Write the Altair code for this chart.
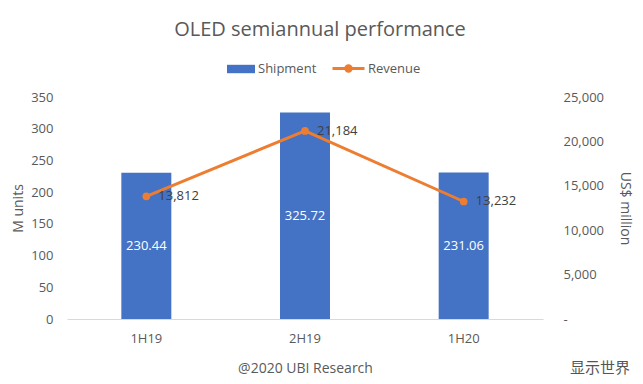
import altair as alt
import pandas as pd

periods = ["1H19", "2H19", "1H20"]
shipment = [230.44, 325.72, 231.06]
revenue = [13812, 21184, 13232]
title_text = "OLED semiannual performance"
x_title = "@2020 UBI Research"
left_title = "M units"
right_title = "US$ million"
corner_text = "显示世界"

FONT = "Open Sans"
GRAY = "#595959"
BLUE = "#4472C4"
ORANGE = "#ED7D31"

df = pd.DataFrame({"period": periods, "ship": shipment, "rev": revenue})
df["mid"] = df["ship"] / 2
df["s1"] = "Shipment"
df["s2"] = "Revenue"

base = alt.Chart(df)

xenc = alt.X(
    "period:N", sort=periods,
    scale=alt.Scale(paddingInner=0.685, paddingOuter=0.3425),
    axis=alt.Axis(title=x_title, labelAngle=0, ticks=False, domainColor="#d9d9d9",
                  labelColor=GRAY, labelFontSize=13, labelPadding=13, titleFontSize=14,
                  titleColor=GRAY, titleFontWeight="normal", titlePadding=16, labelFont=FONT,
                  titleFont=FONT),
)

left_scale = alt.Scale(domain=[0, 350], nice=False)
left_axis = alt.Axis(title=left_title, values=list(range(0, 351, 50)), grid=False, domain=False,
                     ticks=False, labelColor=GRAY, labelFontSize=13, labelPadding=14,
                     labelOverlap=False,
                     titleColor=GRAY, titleFontSize=14, titleFontWeight="normal", titlePadding=5,
                     labelFont=FONT, titleFont=FONT)

bars = base.mark_bar().encode(
    x=xenc, y=alt.Y("ship:Q", scale=left_scale, axis=left_axis),
    color=alt.Color("s1:N", scale=alt.Scale(range=[BLUE]),
                    legend=alt.Legend(title=None, orient="none", legendX=160, legendY=-42,
                                      symbolType="M-1,-0.3H1V0.3H-1Z", symbolSize=784,
                                      symbolStrokeWidth=0, labelFontSize=13, labelColor=GRAY,
                                      labelFont=FONT, labelOffset=3, padding=0)),
)
bar_text = base.mark_text(color="white", fontSize=13, font=FONT).encode(
    x=alt.X("period:N", sort=periods),
    y=alt.Y("mid:Q", scale=left_scale, axis=left_axis),
    text=alt.Text("ship:Q", format=".2f"),
)
left = alt.layer(bars, bar_text)

right_scale = alt.Scale(domain=[0, 25000], nice=False)
right_axis = alt.Axis(title=right_title, orient="right", values=list(range(0, 25001, 5000)),
                      labelExpr="datum.value == 0 ? '-' : format(datum.value, ',')",
                      grid=False, domain=False, ticks=False, labelColor=GRAY, labelFontSize=13,
                      labelPadding=20, labelOverlap=False,
                      titleColor=GRAY, titleFontSize=14, titleFontWeight="normal",
                      titlePadding=14, labelFont=FONT, titleFont=FONT)
yright = alt.Y("rev:Q", scale=right_scale, axis=right_axis)

line = base.mark_line(strokeWidth=3).encode(
    x=alt.X("period:N", sort=periods), y=yright,
    color=alt.Color("s2:N", scale=alt.Scale(range=[ORANGE]),
                    legend=alt.Legend(title=None, orient="none", legendX=264, legendY=-46,
                                      symbolType="M-1,0H1M0.17,0A0.17,0.17,0,1,1,-0.17,0A0.17,0.17,0,1,1,0.17,0",
                                      symbolSize=1024, symbolStrokeWidth=3,
                                      symbolFillColor=ORANGE, symbolStrokeColor=ORANGE,
                                      labelFontSize=13, labelColor=GRAY, labelFont=FONT,
                                      labelOffset=2, padding=0)),
)
pts = base.mark_point(filled=True, size=60, color=ORANGE, opacity=1).encode(
    x=alt.X("period:N", sort=periods), y=yright,
)
line_text = base.mark_text(align="left", dx=12, fontSize=13, color="#404040", font=FONT).encode(
    x=alt.X("period:N", sort=periods), y=yright,
    text=alt.Text("rev:Q", format=","),
)
right = alt.layer(line, pts, line_text)

corner = alt.Chart(pd.DataFrame({"t": [corner_text]})).mark_text(
    align="left", baseline="middle", fontSize=15, color="#555555", font="Noto Sans CJK SC"
).encode(x=alt.value(503), y=alt.value(271), text="t:N")

chart = alt.layer(left, right, corner).resolve_scale(
    y="independent", color="independent"
).properties(
    width=476, height=222,
    title=alt.TitleParams(title_text, fontSize=20, color=GRAY, fontWeight="normal",
                          font=FONT, anchor="middle", frame="group", dx=15, offset=11),
    autosize=alt.AutoSizeParams(type="none"),
    padding={"left": 59, "top": 89, "right": 92, "bottom": 57},
).configure_view(stroke=None)

chart.save("out.html", embed_options={"renderer": "svg", "actions": False})
